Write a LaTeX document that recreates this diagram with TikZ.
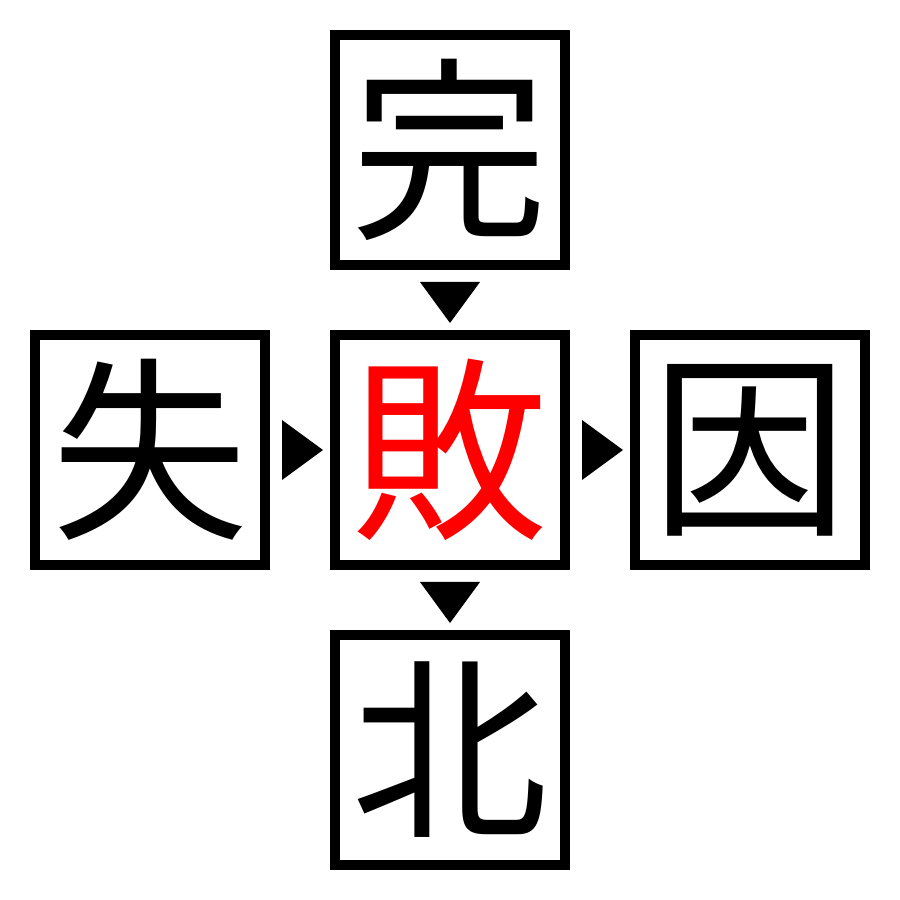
\documentclass[tikz,border=0pt]{standalone}
\usepackage{fontspec}
\newfontfamily\cjk{Noto Sans CJK JP}
\usetikzlibrary{positioning,calc}
\tikzset{
  kanji/.style={draw, line width=1mm, minimum size=2.3cm, inner sep=0pt,
    font=\cjk\fontsize{56}{56}\selectfont, text=black},
  pointer/.style={fill=black}
}
\begin{document}
\begin{tikzpicture}[node distance=0.6cm]
\useasboundingbox (0,0) rectangle (9,9);
\node [kanji, text=red] (bai) at (4.5,4.5) {敗};
\node [kanji, above=of bai] (kan) {完};
\node [kanji, left=of bai] (shitsu) {失};
\node [kanji, right=of bai] (in) {因};
\node [kanji, below=of bai] (boku) {北};
\fill [pointer] ($(kan.south)+(-0.3,-0.12)$) -- ++(0.6,0) -- ++(-0.3,-0.41) -- cycle;
\fill [pointer] ($(bai.south)+(-0.3,-0.12)$) -- ++(0.6,0) -- ++(-0.3,-0.41) -- cycle;
\fill [pointer] ($(shitsu.east)+(0.12,0.3)$) -- ++(0,-0.6) -- ++(0.41,0.3) -- cycle;
\fill [pointer] ($(bai.east)+(0.12,0.3)$) -- ++(0,-0.6) -- ++(0.41,0.3) -- cycle;
\end{tikzpicture}
\end{document}
